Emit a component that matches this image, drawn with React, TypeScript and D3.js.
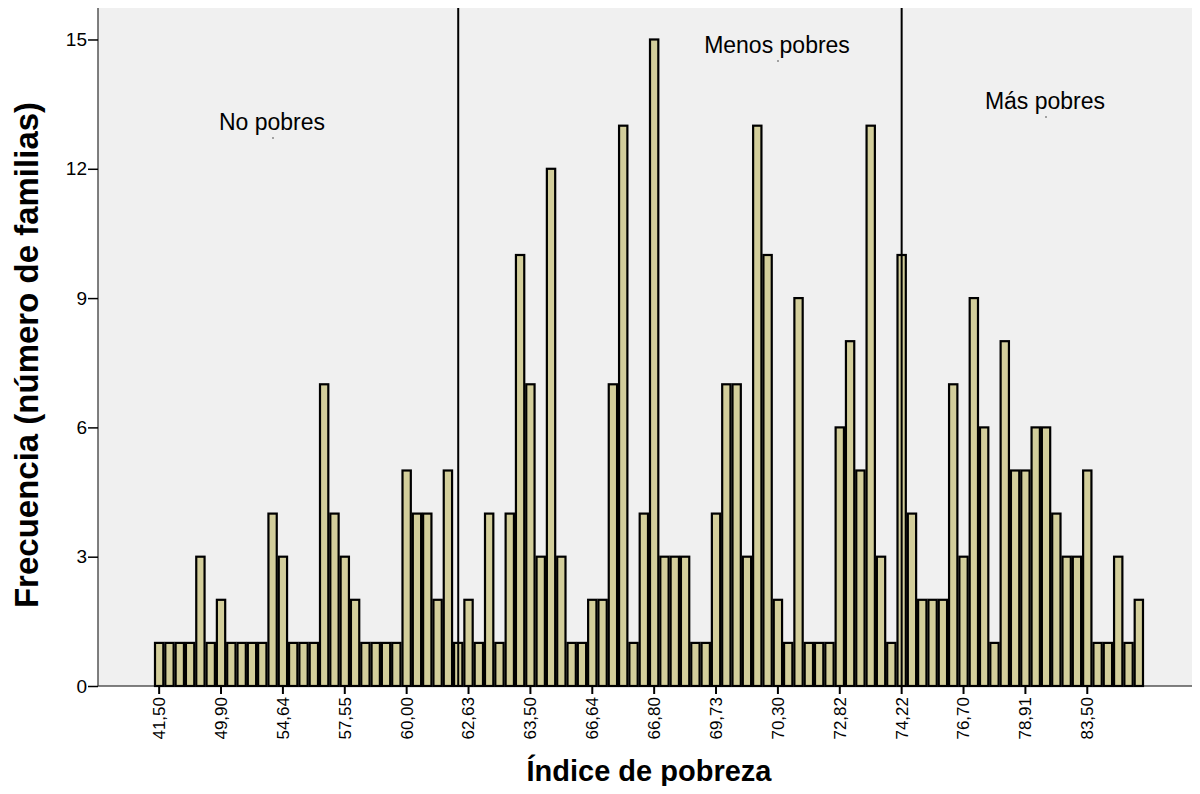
import * as d3 from 'd3'
import React, { useRef, useEffect } from 'react'

// frequencies per category (96 bars, left to right)
const frequencies = [
  1, 1, 1, 1, 3, 1, 2, 1, 1, 1,
  1, 4, 3, 1, 1, 1, 7, 4, 3, 2,
  1, 1, 1, 1, 5, 4, 4, 2, 5, 1,
  2, 1, 4, 1, 4, 10, 7, 3, 12, 3,
  1, 1, 2, 2, 7, 13, 1, 4, 15, 3,
  3, 3, 1, 1, 4, 7, 7, 3, 13, 10,
  2, 1, 9, 1, 1, 1, 6, 8, 5, 13,
  3, 1, 10, 4, 2, 2, 2, 7, 3, 9,
  6, 1, 8, 5, 5, 6, 6, 4, 3, 3,
  5, 1, 1, 3, 1, 2
]

// labels shown on every 6th category
const tickLabels = ['41,50', '49,90', '54,64', '57,55', '60,00', '62,63', '63,50', '66,64',
  '66,80', '69,73', '70,30', '72,82', '74,22', '76,70', '78,91', '83,50']
const tickEvery = 6

const yTicks = [0, 3, 6, 9, 12, 15]

// vertical reference lines, by category index
const refLineIdx = [29, 72]

const groupNames = ['No pobres', 'Menos pobres', 'Más pobres']

const W = 1200
const H = 794

const Histogram = () => {
  const myRef = useRef(null)

  useEffect(() => {
    const svg = d3.select(myRef.current)
    svg.selectAll('*').remove()

    const frame = { left: 98, right: 1199, top: 5, bottom: 686 }
    const categories = frequencies.map((d, i) => i)

    const x = d3.scaleBand()
      .domain(categories)
      .range([154, 1144])
      .padding(0)

    const y = d3.scaleLinear()
      .domain([0, 15.8])
      .range([frame.bottom, frame.top])

    const font = 'Arial, "Liberation Sans", sans-serif'

    // plot background
    svg.append('rect')
      .attr('x', frame.left)
      .attr('y', frame.top)
      .attr('width', frame.right - frame.left)
      .attr('height', frame.bottom - frame.top)
      .attr('fill', '#f0f0f0')
      .attr('stroke', '#3c3c3c')
      .attr('stroke-width', 1.3)

    // bars
    svg.append('g')
      .selectAll('rect')
      .data(frequencies)
      .enter().append('rect')
      .attr('x', (d, i) => x(i) + 1)
      .attr('y', d => y(d))
      .attr('width', x.bandwidth() - 2)
      .attr('height', d => y(0) - y(d))
      .attr('fill', '#d3ce9b')
      .attr('stroke', '#000')
      .attr('stroke-width', 2.2)

    // reference lines
    svg.append('g')
      .selectAll('line')
      .data(refLineIdx)
      .enter().append('line')
      .attr('x1', d => x(d) + x.bandwidth() / 2)
      .attr('x2', d => x(d) + x.bandwidth() / 2)
      .attr('y1', frame.top)
      .attr('y2', frame.bottom)
      .attr('stroke', '#000')
      .attr('stroke-width', 2)

    // x axis
    const xTickIdx = tickLabels.map((d, i) => i * tickEvery)
    const xAxis = d3.axisBottom(x)
      .tickValues(xTickIdx)
      .tickFormat(d => tickLabels[d / tickEvery])
      .tickSize(8)
      .tickSizeOuter(0)
    const gx = svg.append('g')
      .attr('transform', `translate(0,${frame.bottom})`)
      .call(xAxis)
    gx.select('.domain').remove()
    gx.selectAll('.tick line').attr('stroke', '#000').attr('stroke-width', 2)
    gx.selectAll('.tick text')
      .attr('transform', 'rotate(-90)')
      .attr('text-anchor', 'end')
      .attr('x', -11)
      .attr('y', 0)
      .attr('dy', '0.35em')
      .attr('fill', '#000')
      .style('font-family', font)
      .style('font-size', '17px')

    // y axis
    const yAxis = d3.axisLeft(y)
      .tickValues(yTicks)
      .tickSize(10)
      .tickSizeOuter(0)
    const gy = svg.append('g')
      .attr('transform', `translate(${frame.left},0)`)
      .call(yAxis)
    gy.select('.domain').remove()
    gy.selectAll('.tick line').attr('stroke', '#000').attr('stroke-width', 1.5)
    gy.selectAll('.tick text')
      .attr('x', -11)
      .attr('fill', '#000')
      .style('font-family', font)
      .style('font-size', '19px')

    // axis titles
    svg.append('text')
      .attr('x', 649)
      .attr('y', 781)
      .attr('text-anchor', 'middle')
      .style('font-family', font)
      .style('font-size', '29px')
      .style('font-weight', 'bold')
      .text('Índice de pobreza')

    svg.append('text')
      .attr('transform', 'translate(38,355) rotate(-90)')
      .attr('text-anchor', 'middle')
      .style('font-family', font)
      .style('font-size', '33px')
      .style('font-weight', 'bold')
      .text('Frecuencia (número de familias)')

    // group annotations
    const notes = [
      { name: groupNames[0], x: 272, y: 130 },
      { name: groupNames[1], x: 777, y: 53 },
      { name: groupNames[2], x: 1045, y: 109 }
    ]
    const gn = svg.append('g')
    gn.selectAll('text')
      .data(notes)
      .enter().append('text')
      .attr('x', d => d.x)
      .attr('y', d => d.y)
      .attr('text-anchor', 'middle')
      .style('font-family', font)
      .style('font-size', '23px')
      .text(d => d.name)
    gn.selectAll('line')
      .data(notes)
      .enter().append('line')
      .attr('x1', d => d.x + 1)
      .attr('x2', d => d.x + 1)
      .attr('y1', d => d.y + 7)
      .attr('y2', d => d.y + 9)
      .attr('stroke', '#555')
      .attr('stroke-width', 1)
  }, [])

  return (
    <svg ref={myRef} width={W} height={H} style={{ display: 'block' }}></svg>
  )
}

export default function App() {
  return (
    <div style={{ margin: -8 }}>
      <Histogram />
    </div>
  )
}
